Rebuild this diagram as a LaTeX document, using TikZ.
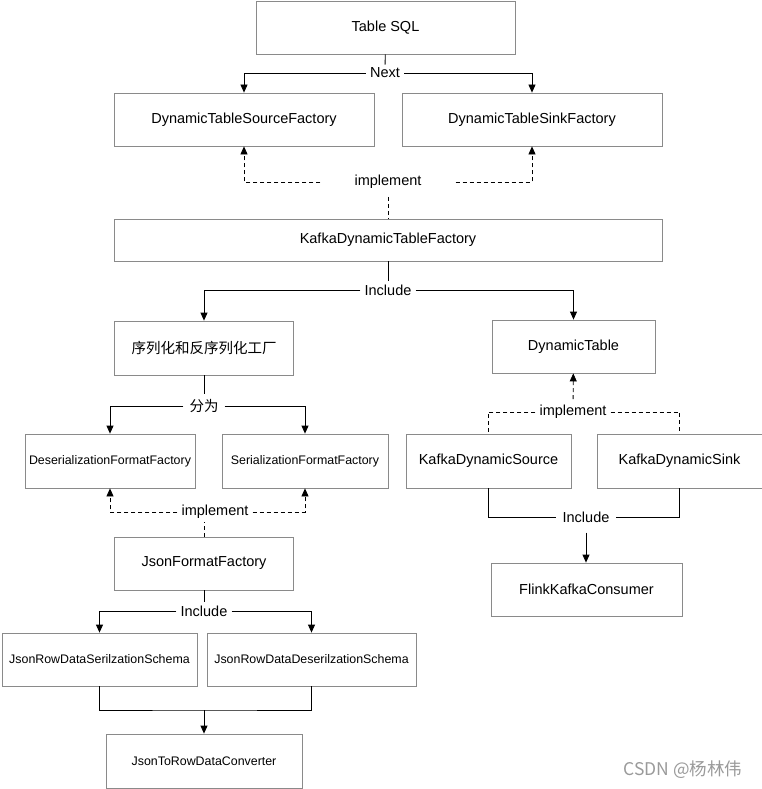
\documentclass[tikz,border=0pt]{standalone}
\usepackage{fontspec}
\setmainfont{Liberation Sans}
\newfontfamily\cjk{Noto Sans CJK SC}
\usepackage{tikz}
\usetikzlibrary{positioning,arrows.meta}
\definecolor{boxgray}{HTML}{8A8A8A}
\definecolor{markgray}{HTML}{9A9A9A}

\begin{document}
\begin{tikzpicture}[x=1pt,y=-1pt,
    box/.style={draw=boxgray,line width=0.8pt,inner sep=0pt,font=\fontsize{14.5}{17}\selectfont},
    small/.style={font=\fontsize{12.4}{15}\selectfont},
    lbl/.style={inner xsep=4pt,inner ysep=3pt,font=\fontsize{14.5}{17}\selectfont},
    link/.style={line width=0.8pt,-{Triangle[width=7pt,length=8pt]}},
    plain/.style={line width=0.8pt},
    impl/.style={line width=0.8pt,dash pattern=on 4pt off 3pt}]
    \useasboundingbox (0,0) rectangle (762,789);
    \node[box,minimum width=259pt,minimum height=53pt] (sql) at (385.5,27.5) {Table SQL};
    \node[lbl] (next) at (385,73) {Next};
    \node[box,minimum width=260pt,minimum height=53pt] (srcf) at (244,119.5) {DynamicTableSourceFactory};
    \node[box,minimum width=260pt,minimum height=53pt] (sinkf) at (532,119.5) {DynamicTableSinkFactory};
    \node[lbl,inner xsep=34pt,inner ysep=8pt] (impla) at (388,182) {implement};
    \node[box,minimum width=548pt,minimum height=42pt] (kdtf) at (388,240) {KafkaDynamicTableFactory};
    \node[lbl] (incla) at (388,290) {Include};
    \node[box,minimum width=179pt,minimum height=54pt] (serde) at (204,348) {\cjk 序列化和反序列化工厂};
    \node[box,minimum width=163pt,minimum height=53pt] (dyntab) at (573.5,346.5) {DynamicTable};
    \node[lbl,inner xsep=6pt,inner ysep=5pt] (split) at (204,406) {\cjk 分为};
    \node[box,small,minimum width=170pt,minimum height=54pt] (deser) at (110,461) {DeserializationFormatFactory};
    \node[box,small,minimum width=166pt,minimum height=54pt] (ser) at (305,461) {SerializationFormatFactory};
    \node[lbl] (implb) at (215,512) {implement};
    \node[box,minimum width=179pt,minimum height=53pt] (jsonf) at (204,563.5) {JsonFormatFactory};
    \node[lbl] (inclb) at (204,611) {Include};
    \node[box,small,minimum width=195pt,minimum height=53pt] (jser) at (99.5,659.5) {JsonRowDataSerilzationSchema};
    \node[box,small,minimum width=209pt,minimum height=53pt] (jdeser) at (311.5,659.5) {JsonRowDataDeserilzationSchema};
    \coordinate (merge) at (204,710);
    \node[box,small,minimum width=196pt,minimum height=54pt] (conv) at (204,761) {JsonToRowDataConverter};
    \node[lbl,inner ysep=6pt] (implc) at (573,412) {implement};
    \node[box,minimum width=165pt,minimum height=54pt] (ksrc) at (488.5,461) {KafkaDynamicSource};
    \node[box,minimum width=165pt,minimum height=54pt] (ksink) at (679.5,461) {KafkaDynamicSink};
    \node[lbl,inner xsep=6pt,inner ysep=10pt] (inclc) at (586,517) {Include};
    \node[box,minimum width=191pt,minimum height=53pt] (flink) at (586.5,589.5) {FlinkKafkaConsumer};
    \node[text=markgray,font=\cjk\fontsize{17.5}{20}\selectfont] (mark) at (683,770) {CSDN @杨林伟};
    \draw[plain] (sql) -- (next);
    \draw[link] (next) -| (srcf);
    \draw[link] (next) -| (sinkf);
    \draw[impl,-{Triangle[width=7pt,length=8pt]}] (impla) -| (srcf);
    \draw[impl,-{Triangle[width=7pt,length=8pt]}] (impla) -| (sinkf);
    \draw[impl] (impla) -- (kdtf);
    \draw[plain] (kdtf) -- (incla);
    \draw[link] (incla) -| (serde);
    \draw[link] (incla) -| (dyntab);
    \draw[plain] (serde) -- (split);
    \draw[link] (split) -| (deser);
    \draw[link] (split) -| (ser);
    \draw[impl,-{Triangle[width=7pt,length=8pt]}] (implb) -| (deser);
    \draw[impl,-{Triangle[width=7pt,length=8pt]}] (implb) -| (ser);
    \draw[impl] (jsonf) -- (jsonf |- implb.south);
    \draw[plain] (jsonf) -- (inclb);
    \draw[link] (inclb) -| (jser);
    \draw[link] (inclb) -| (jdeser);
    \draw[plain] (jser) |- (merge) -| (jdeser);
    \draw[link] (merge) -- (conv);
    \draw[impl,-{Triangle[width=7pt,length=8pt]}] (implc) -- (dyntab);
    \draw[impl] (implc) -| (ksrc);
    \draw[impl] (implc) -| (ksink);
    \draw[plain] (ksrc) |- (inclc);
    \draw[plain] (ksink) |- (inclc);
    \draw[link] (inclc) -- (inclc |- flink.north);
\end{tikzpicture}
\end{document}
